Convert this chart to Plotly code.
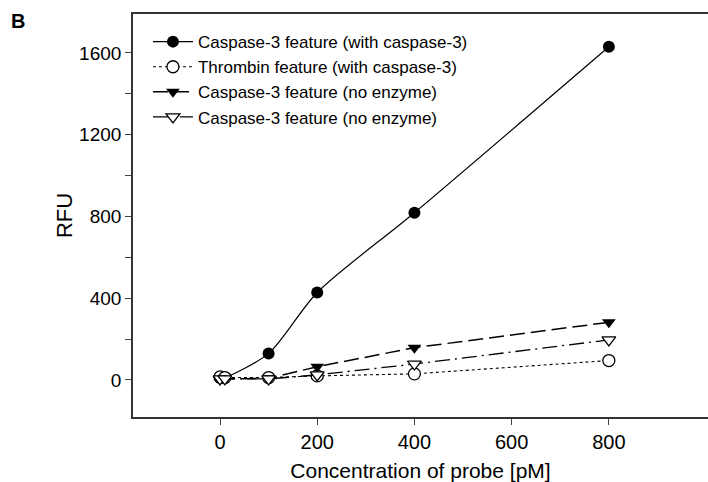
import plotly.graph_objects as go

conc = [0, 10, 100, 200, 400, 800]
casp_with = [10, 12, 130, 428, 818, 1630]
thrombin_with = [15, 12, 12, 20, 30, 95]
casp_none_a = [2, 5, 8, 65, 158, 282]
casp_none_b = [5, 5, 5, 25, 78, 196]

names = ["Caspase-3 feature (with caspase-3)",
         "Thrombin feature (with caspase-3)",
         "Caspase-3 feature (no enzyme)",
         "Caspase-3 feature (no enzyme)"]

y_tickvals = [0, 200, 400, 600, 800, 1000, 1200, 1400, 1600]
y_ticktext = ["0", "", "400", "", "800", "", "1200", "", "1600"]
x_tickvals = [0, 200, 400, 600, 800]

FONT = "Liberation Sans, Arial, sans-serif"

fig = go.Figure()
fig.add_trace(go.Scatter(x=conc, y=casp_with, name=names[0], mode="lines+markers",
                         line=dict(color="black", width=1.2, shape="spline", smoothing=0.8),
                         marker=dict(symbol="circle", size=12, color="black")))
fig.add_trace(go.Scatter(x=conc, y=thrombin_with, name=names[1], mode="lines+markers",
                         line=dict(color="black", width=1.1, dash="dot"),
                         marker=dict(symbol="circle", size=12, color="white",
                                     line=dict(color="black", width=1.3))))
fig.add_trace(go.Scatter(x=conc, y=casp_none_a, name=names[2], mode="lines+markers",
                         line=dict(color="black", width=1.5, dash="15px,6px"),
                         marker=dict(symbol="triangle-down", size=12, color="black")))
fig.add_trace(go.Scatter(x=conc, y=casp_none_b, name=names[3], mode="lines+markers",
                         line=dict(color="black", width=1.3, dash="15px,5px,2px,5px"),
                         marker=dict(symbol="triangle-down", size=12, color="white",
                                     line=dict(color="black", width=1.3))))

fig.update_layout(
    width=708, height=482,
    margin=dict(l=133, r=0, t=14, b=65),
    paper_bgcolor="white", plot_bgcolor="white",
    font=dict(family=FONT, color="black"),
    showlegend=True,
    legend=dict(x=0.026, y=0.975, xanchor="left", yanchor="top",
                font=dict(size=17, family=FONT), bgcolor="rgba(0,0,0,0)",
                tracegroupgap=0, itemwidth=40),
    xaxis=dict(range=[-179, 1004], tickvals=x_tickvals, showgrid=False, zeroline=False,
               showline=True, linecolor="#333", linewidth=1.6, mirror=True,
               ticks="outside", ticklen=6, tickcolor="#444", tickwidth=1.2,
               tickfont=dict(size=20),
               title=dict(text="Concentration of probe [pM]", font=dict(size=21), standoff=13)),
    yaxis=dict(range=[-181, 1790], tickvals=y_tickvals, ticktext=y_ticktext,
               showgrid=False, zeroline=False,
               showline=True, linecolor="#333", linewidth=1.6, mirror=False,
               ticks="outside", ticklen=6, tickcolor="#444", tickwidth=1.2,
               tickfont=dict(size=19),
               title=dict(text="RFU", font=dict(size=22), standoff=0)),
    annotations=[dict(text="<b>B</b>", x=-133/575 + 0.016, y=1, xref="paper", yref="paper",
                      xanchor="left", yanchor="top", yshift=6,
                      showarrow=False, font=dict(size=20))],
)

fig.write_html("out.html", config={"displayModeBar": False},
               post_script="document.body.style.margin='0';document.body.style.padding='0';")
